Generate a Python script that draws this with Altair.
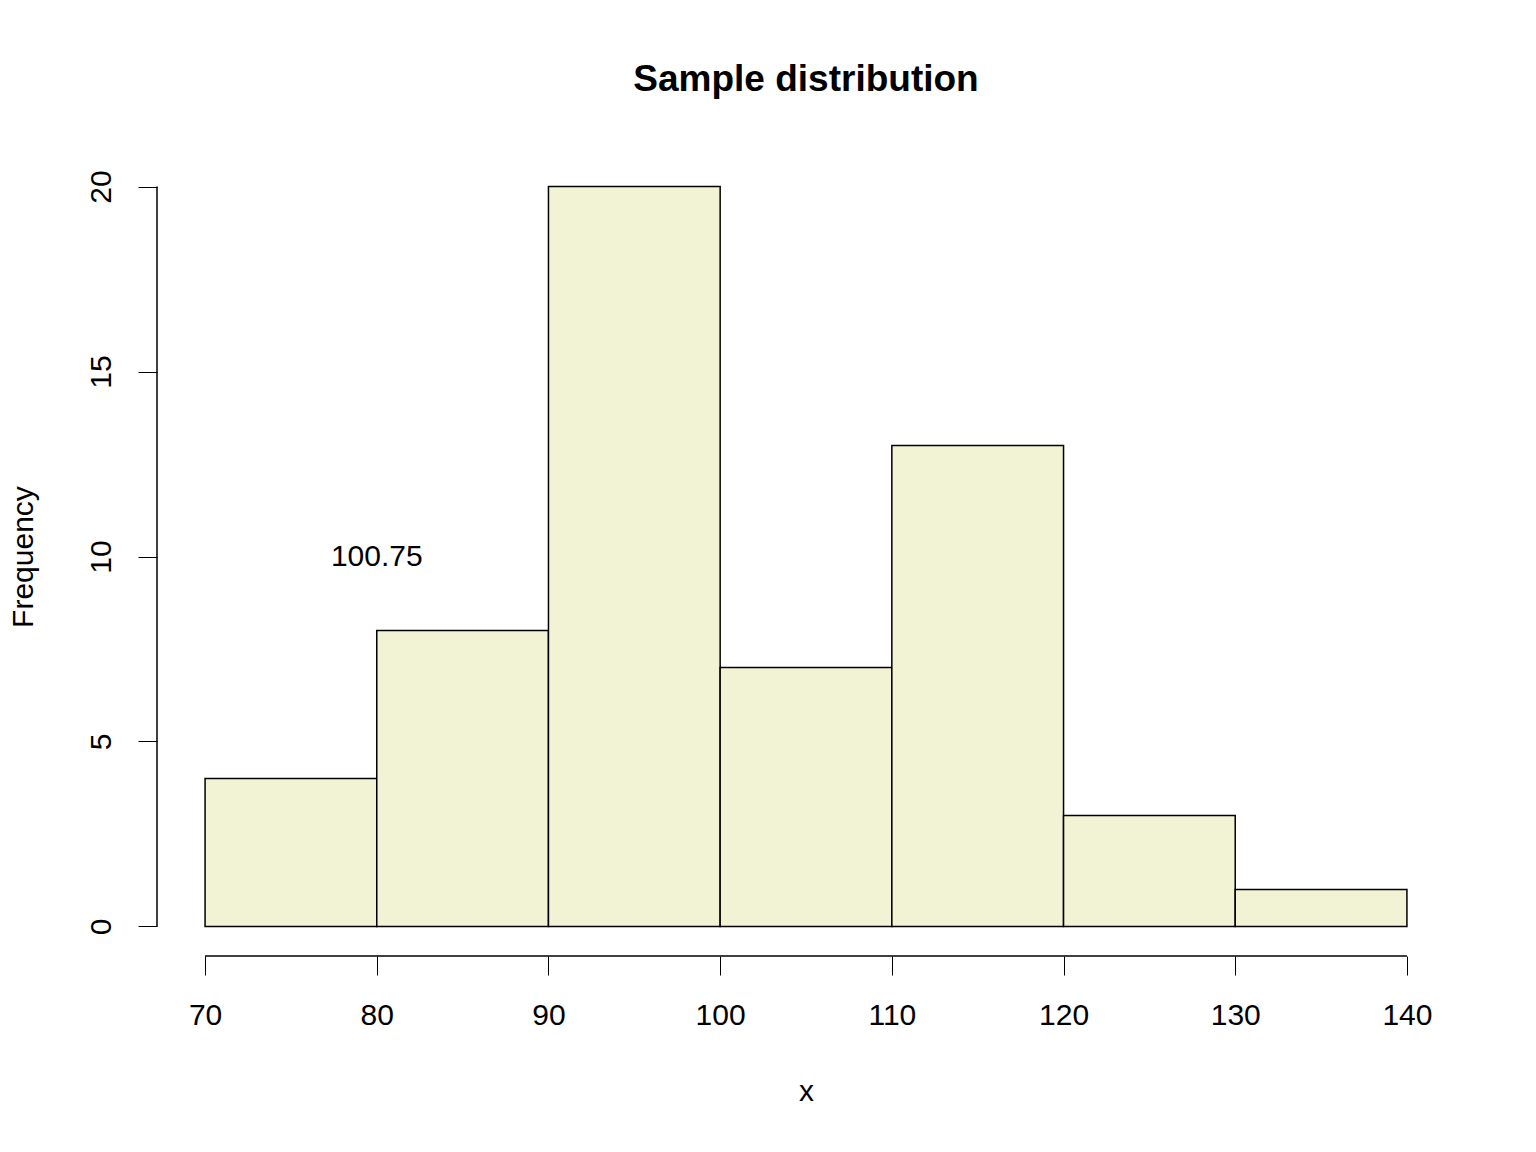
import altair as alt
import pandas as pd

bin_lo = [70, 80, 90, 100, 110, 120, 130]
bin_hi = [80, 90, 100, 110, 120, 130, 140]
counts = [4, 8, 20, 7, 13, 3, 1]
x_ticks = [70, 80, 90, 100, 110, 120, 130, 140]
y_ticks = [0, 5, 10, 15, 20]
note_text = "100.75"

bars = pd.DataFrame({"lo": bin_lo, "hi": bin_hi, "n": counts})
FONT = "Liberation Sans"

xs = alt.Scale(domain=[67.2, 142.8], nice=False, zero=False)
ys = alt.Scale(domain=[-0.8, 20.8], nice=False, zero=False)

xaxis = alt.Axis(values=x_ticks, domain=False, grid=False, tickSize=19, tickColor="black",
                 labelPadding=25, labelFontSize=30, labelFont=FONT, labelColor="black",
                 title="x", titleFontSize=30, titleFont=FONT, titleFontWeight="normal",
                 titlePadding=46, titleColor="black")
yaxis = alt.Axis(values=y_ticks, domain=False, grid=False, tickSize=19, tickColor="black",
                 labelAngle=-90, labelAlign="center", labelBaseline="bottom", labelPadding=22,
                 labelFontSize=30, labelFont=FONT, labelColor="black",
                 title="Frequency", titleFontSize=30, titleFont=FONT, titleFontWeight="normal",
                 titlePadding=48, titleColor="black")

hist = alt.Chart(bars).mark_rect(fill="#F2F2D4", stroke="black", strokeWidth=1.5).encode(
    x=alt.X("lo:Q", scale=xs, axis=xaxis),
    x2="hi:Q",
    y=alt.Y("n:Q", scale=ys, axis=yaxis),
    y2=alt.datum(0),
)

xline = alt.Chart(pd.DataFrame({"a": [x_ticks[0]], "b": [x_ticks[-1]], "y": [-0.8]})).mark_rule(
    color="black", strokeWidth=1.5).encode(x=alt.X("a:Q", scale=xs), x2="b:Q", y=alt.Y("y:Q", scale=ys))
yline = alt.Chart(pd.DataFrame({"a": [y_ticks[0]], "b": [y_ticks[-1]], "x": [67.2]})).mark_rule(
    color="black", strokeWidth=1.5).encode(y=alt.Y("a:Q", scale=ys), y2="b:Q", x=alt.X("x:Q", scale=xs))

note = alt.Chart(pd.DataFrame({"x": [80], "y": [10], "t": [note_text]})).mark_text(
    font=FONT, fontSize=30, color="black").encode(
    x=alt.X("x:Q", scale=xs), y=alt.Y("y:Q", scale=ys), text="t:N")

title = alt.Chart(pd.DataFrame({"t": ["Sample distribution"]})).mark_text(
    font=FONT, fontSize=37, fontWeight="bold", color="black", baseline="middle").encode(
    x=alt.value(649), y=alt.value(-77), text="t:N")

chart = alt.layer(hist, xline, yline, note, title).properties(
    width=1298, height=799,
    autosize=alt.AutoSizeParams(type="none"),
    padding={"left": 149, "top": 149, "right": 73, "bottom": 188},
).configure_view(stroke=None)

chart.save("out.html", embed_options={"renderer": "svg", "actions": False})
